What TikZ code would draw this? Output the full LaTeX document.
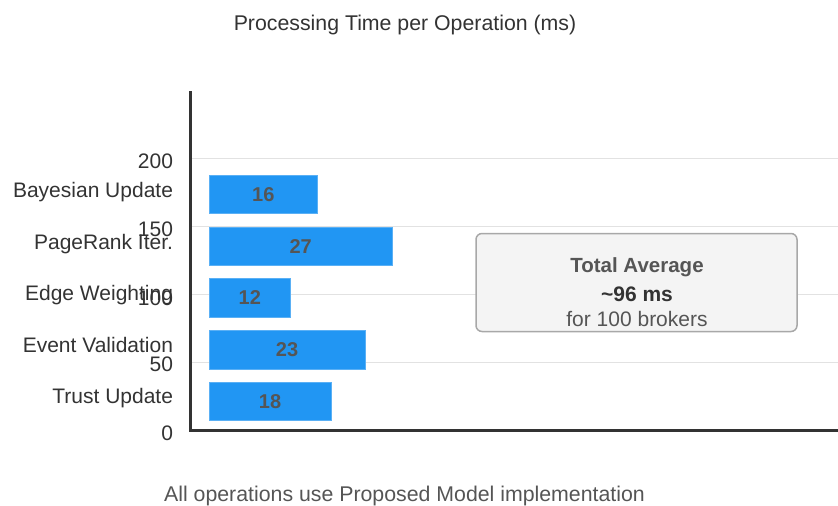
\documentclass[tikz,border=0pt]{standalone}
\usepackage{fontspec}
\setmainfont{Liberation Sans}
\definecolor{barblue}{HTML}{2196F3}
\definecolor{baredge}{HTML}{5AB0F5}
\definecolor{axisc}{HTML}{333333}
\definecolor{gridc}{HTML}{E2E2E2}
\definecolor{txtc}{HTML}{333333}
\definecolor{greyc}{HTML}{555555}
\definecolor{boxfill}{HTML}{F4F4F4}
\definecolor{boxedge}{HTML}{A8A8A8}
\tikzset{
  every node/.style={inner sep=0pt, outer sep=0pt},
  lbl/.style={font=\fontsize{21}{25}\selectfont, text=txtc, anchor=base east},
  bar/.style={fill=barblue, draw=baredge, line width=0.8pt, anchor=west, minimum height=38.5pt,
              font=\fontsize{20}{24}\selectfont\bfseries, text=greyc},
  gridline/.style={draw=gridc, line width=1.5pt},
  axisline/.style={draw=axisc, line width=3pt},
}
\begin{document}
\begin{tikzpicture}[x=1pt, y=-1pt]
\useasboundingbox (0,0) rectangle (838,506);
% grid
\foreach \yy in {158.7,226.7,294.3,362.3}{\draw[gridline] (191,\yy) -- (838,\yy);}
% axes
\coordinate (ytop) at (190.7,91);
\coordinate (orig) at (190.7,430.5);
\coordinate (xend) at (838,430.5);
\draw[axisline] (ytop) -- (orig) -- (xend);
% tick labels
\node[lbl] (t200) at (173,168.3) {200};
\node[lbl] (t150) at (173,236.7) {150};
\node[lbl] (t100) at (173,305) {100};
\node[lbl] (t50) at (173,371.7) {50};
\node[lbl] (t0) at (173,440) {0};
% category labels
\node[lbl] (c1) at (173,197) {Bayesian Update};
\node[lbl] (c2) at (173,249.3) {PageRank Iter.};
\node[lbl] (c3) at (173,300.7) {Edge Weighting};
\node[lbl] (c4) at (173,352) {Event Validation};
\node[lbl] (c5) at (173,403.3) {Trust Update};
% bars
\node[bar, minimum width=108.6pt] (b1) at (209,194.5) {16};
\node[bar, minimum width=183.3pt] (b2) at (209,246.5) {27};
\node[bar, minimum width=81.5pt] (b3) at (209,298) {12};
\node[bar, minimum width=156.2pt] (b4) at (209,350) {23};
\node[bar, minimum width=122.2pt] (b5) at (209,401.5) {18};
% summary box
\node[draw=boxedge, fill=boxfill, line width=1.5pt, rounded corners=6pt,
      minimum width=321pt, minimum height=98pt] (box) at (636.5,282.5) {};
\node[font=\fontsize{20.5}{24}\selectfont\bfseries, text=greyc, anchor=base] (bt1) at (637,272.7) {Total Average};
\node[font=\fontsize{21}{24}\selectfont\bfseries, text=txtc, anchor=base] (bt2) at (637,301.7) {\textasciitilde 96 ms};
\node[font=\fontsize{21}{24}\selectfont, text=greyc, anchor=base] (bt3) at (637,326.7) {for 100 brokers};
% title and footer
\node[font=\fontsize{21.3}{25}\selectfont, text=txtc, anchor=base] (title) at (405,30) {Processing Time per Operation (ms)};
\node[font=\fontsize{21.3}{25}\selectfont, text=greyc, anchor=base] (foot) at (404.5,501) {All operations use Proposed Model implementation};
\end{tikzpicture}
\end{document}
